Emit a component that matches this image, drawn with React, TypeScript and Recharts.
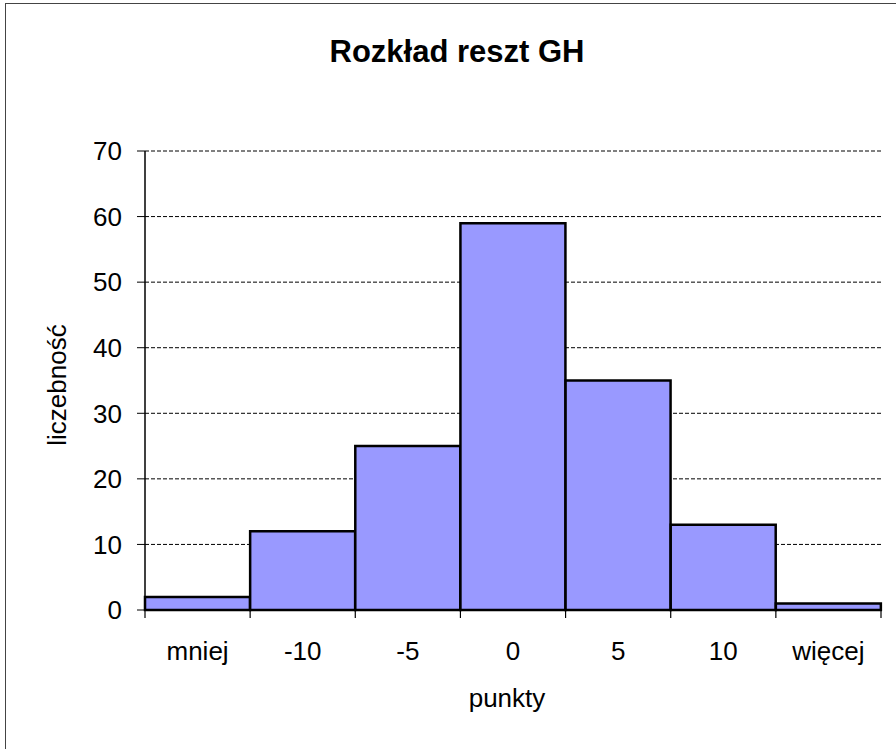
import React from 'react';
import { BarChart, Bar, XAxis, YAxis, CartesianGrid } from 'recharts';

// Klasy histogramu reszt i liczebności
const categories = ['mniej', '-10', '-5', '0', '5', '10', 'więcej'];
const counts = [2, 12, 25, 59, 35, 13, 1];
const yTicks = [0, 10, 20, 30, 40, 50, 60, 70];

const data = categories.map((name, i) => ({ name, count: counts[i] }));

const FONT = '"Liberation Sans", Arial, sans-serif';
const TICK_MARGIN = 32;

// etykieta kategorii + kreska na lewej (i dla ostatniej także prawej) granicy przedziału
function BinTick(props: any) {
  const { x, y, payload, index, visibleTicksCount } = props;
  const half = payload.offset || 0;
  const axisY = y - TICK_MARGIN;
  const isLast = index === visibleTicksCount - 1;
  return (
    <g>
      <line x1={x - half} x2={x - half} y1={axisY} y2={axisY + 8} stroke="#000" strokeWidth={1.2} />
      {isLast && <line x1={x + half} x2={x + half} y1={axisY} y2={axisY + 8} stroke="#000" strokeWidth={1.2} />}
      <text x={x} y={y} dy="0.71em" textAnchor="middle" fontSize={26} fontFamily={FONT} fill="#000">
        {payload.value}
      </text>
    </g>
  );
}

export default function App() {
  return (
    <div
      style={{
        position: 'fixed',
        left: 0,
        top: 0,
        width: 896,
        height: 749,
        overflow: 'hidden',
        background: '#fff',
      }}
    >
      {/* ramka wykresu */}
      <div
        style={{
          position: 'absolute',
          left: 5,
          top: 3,
          width: 1000,
          height: 1000,
          border: '1px solid #444',
        }}
      />
      <div style={{ position: 'absolute', left: 0, top: 0 }}>
        <BarChart
          width={896}
          height={749}
          data={data}
          barCategoryGap={0}
          margin={{ top: 151, right: 15, bottom: 99, left: 60 }}
        >
          <CartesianGrid vertical={false} stroke="#000" strokeDasharray="4 2" />
          <XAxis
            dataKey="name"
            axisLine={{ stroke: '#000', strokeWidth: 1.5 }}
            tickLine={false}
            tickSize={0}
            tickMargin={TICK_MARGIN}
            height={40}
            interval={0}
            tick={<BinTick />}
          />
          <YAxis
            domain={[0, 70]}
            ticks={yTicks}
            width={85}
            tickSize={8}
            tickMargin={15}
            axisLine={{ stroke: '#000', strokeWidth: 1.5 }}
            tickLine={{ stroke: '#000' }}
            tick={{ fontSize: 26, fill: '#000', fontFamily: FONT }}
          />
          <Bar dataKey="count" fill="#9999FF" stroke="#000" strokeWidth={2.5} isAnimationActive={false} />
        </BarChart>
      </div>
      <svg
        width={896}
        height={749}
        style={{ position: 'absolute', left: 0, top: 0, pointerEvents: 'none' }}
      >
        <text x={457} y={62} textAnchor="middle" fontFamily={FONT} fontSize={31} fontWeight="bold">
          Rozkład reszt GH
        </text>
        <text x={507} y={707} textAnchor="middle" fontFamily={FONT} fontSize={26}>
          punkty
        </text>
        <text x={66} y={385} textAnchor="middle" fontFamily={FONT} fontSize={26} transform="rotate(-90 66 385)">
          liczebność
        </text>
      </svg>
    </div>
  );
}
